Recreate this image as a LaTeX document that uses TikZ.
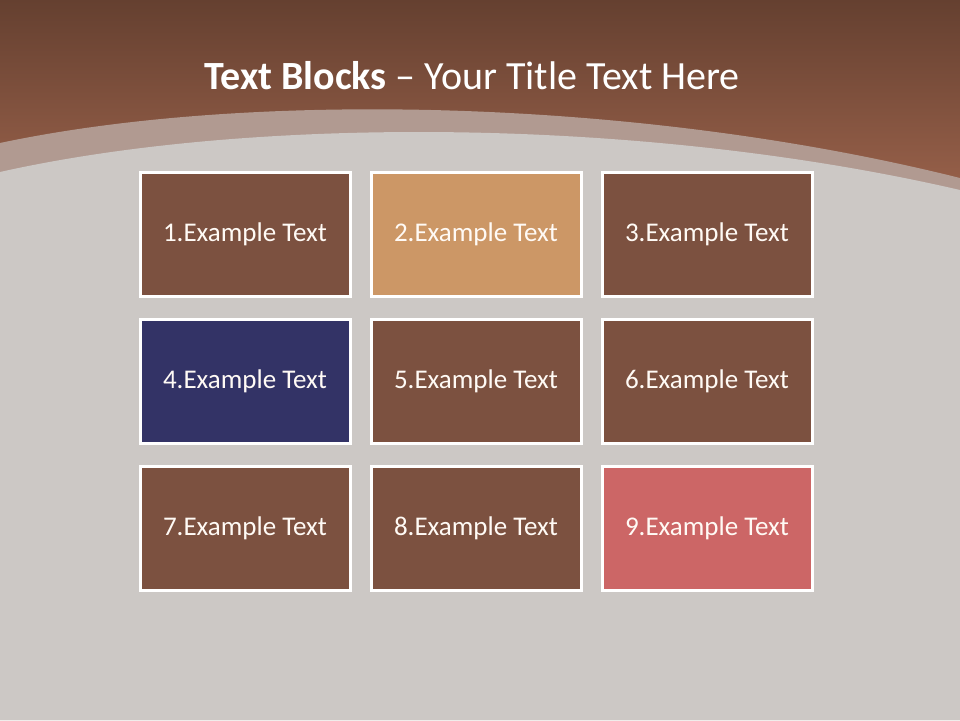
\documentclass[tikz,border=0pt]{standalone}
\usepackage{fontspec}
\setmainfont{Carlito}
\usetikzlibrary{positioning}

\definecolor{bgtop}{HTML}{654030}
\definecolor{bgmid}{HTML}{9A624B}
\definecolor{arcband}{HTML}{B19A91}
\definecolor{slate}{HTML}{CCC8C5}
\definecolor{cocoa}{HTML}{7C5140}
\definecolor{caramel}{HTML}{CC9766}
\definecolor{indigo}{HTML}{333366}
\definecolor{rosered}{HTML}{CC6666}

\begin{document}
\begin{tikzpicture}[
    x=1pt, y=-1pt,
    % gap between the blocks
    node distance=23pt and 21pt,
    % --- Style Definitions ---
    block/.style={
        rectangle, draw=white, line width=3pt, fill=#1,
        minimum width=210pt, minimum height=124pt, outer sep=0pt,
        text=white!96!orange, font=\fontsize{27}{32}\selectfont
    },
    title/.style={
        text=white, font=\fontsize{40}{46}\selectfont
    }
]

% ================= Background =================
\useasboundingbox (0,0) rectangle (960,720);
\shade[top color=bgtop, bottom color=bgmid] (0,0) rectangle (960,200);
\fill[arcband] (0,143) .. controls (250,90) and (640,98) .. (960,178)
    -- (960,720) -- (0,720) -- cycle;
\fill[slate] (0,172) .. controls (250,116) and (640,116) .. (960,190)
    -- (960,720) -- (0,720) -- cycle;

% ================= Title =================
\node[title] (heading) at (472,76) {\textbf{Text Blocks} -- Your Title Text Here};

% ================= Row 1 =================
\node[block=cocoa] (b1) at (245,234) {1.Example Text};
\node[block=caramel, right=of b1] (b2) {2.Example Text};
\node[block=cocoa, right=of b2] (b3) {3.Example Text};

% ================= Row 2 =================
\node[block=indigo, below=of b1] (b4) {4.Example Text};
\node[block=cocoa, right=of b4] (b5) {5.Example Text};
\node[block=cocoa, right=of b5] (b6) {6.Example Text};

% ================= Row 3 =================
\node[block=cocoa, below=of b4] (b7) {7.Example Text};
\node[block=cocoa, right=of b7] (b8) {8.Example Text};
\node[block=rosered, right=of b8] (b9) {9.Example Text};

\end{tikzpicture}
\end{document}
